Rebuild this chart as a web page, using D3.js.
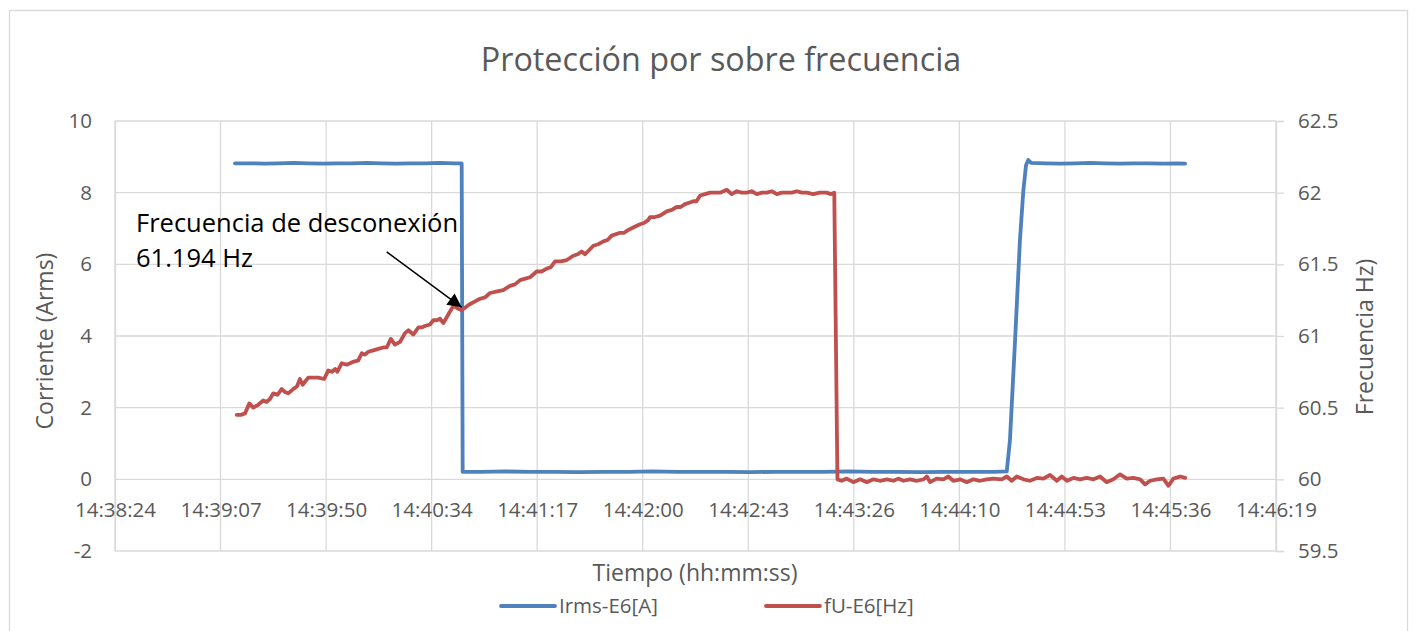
<!DOCTYPE html>
<html>
<head>
<meta charset="utf-8">
<script src="https://cdn.jsdelivr.net/npm/d3@7"></script>
<style>
  html, body { margin: 0; padding: 0; background: #fff; }
  svg { display: block; font-family: "Open Sans", "Noto Sans", sans-serif; }
</style>
</head>
<body>
<svg id="chart" width="1420" height="631"></svg>
<script>
// ---------------- DATA ----------------
const chartTitle = "Protección por sobre frecuencia";
const startClock = "14:38:24";           // time origin (seconds below are offsets from it)
const xTickLabels = ["14:38:24","14:39:07","14:39:50","14:40:34","14:41:17","14:42:00",
                     "14:42:43","14:43:26","14:44:10","14:44:53","14:45:36","14:46:19"];
const xTickStep = 43.2;                  // seconds between time ticks
const leftTicks = [-2, 0, 2, 4, 6, 8, 10];
const rightTicks = [59.5, 60, 60.5, 61, 61.5, 62, 62.5];
const seriesNames = ["Irms-E6[A]", "fU-E6[Hz]"];

// Irms-E6[A] : [seconds after 14:38:24, A]
const irms = [
  [49.1,8.82],[55,8.82],[61,8.81],[67,8.82],[73,8.83],[79,8.82],[85,8.81],[91,8.82],
  [97,8.82],[103,8.83],[109,8.82],[115,8.81],[121,8.82],[127,8.82],[133,8.83],[139,8.82],
  [141.9,8.82],[142.3,0.21],[150,0.21],[160,0.22],[170,0.21],[180,0.21],[190,0.20],
  [200,0.21],[210,0.21],[220,0.22],[230,0.21],[240,0.21],[250,0.21],[260,0.20],[270,0.21],
  [280,0.21],[290,0.21],[300,0.22],[310,0.21],[320,0.21],[330,0.20],[340,0.21],[350,0.21],
  [360,0.21],[365.0,0.22],[366.3,1.09],[368.4,3.88],[370.4,6.68],[371.8,8.07],[372.9,8.77],
  [373.8,8.91],[375.0,8.83],[381,8.82],[387,8.81],[393,8.82],[399,8.83],[405,8.82],
  [411,8.81],[417,8.82],[423,8.82],[429,8.81],[435,8.82],[438.0,8.81]
];

// fU-E6[Hz] : [seconds after 14:38:24, Hz]
const freq = [
  [49.8,60.45],[51.5,60.45],[53.2,60.46],[55.0,60.53],[56.6,60.50],[58.6,60.52],[60.7,60.55],
  [62.0,60.54],[63.4,60.56],[64.8,60.60],[66.5,60.59],[68.2,60.63],[69.5,60.61],[70.9,60.60],
  [73.0,60.63],[74.5,60.65],[75.7,60.70],[76.8,60.66],[79.1,60.71],[81.0,60.71],[83.2,60.71],
  [85.6,60.70],[87.3,60.76],[88.8,60.75],[90.1,60.77],[91.0,60.75],[92.8,60.81],[94.8,60.80],
  [96.2,60.81],[97.5,60.82],[99.6,60.83],[101.0,60.88],[102.3,60.87],[103.7,60.89],[105.7,60.90],
  [107.8,60.91],[109.8,60.92],[111.2,60.92],[112.9,60.98],[114.6,60.94],[116.7,60.96],
  [118.7,61.02],[120.1,61.04],[122.1,61.01],[124.2,61.06],[125.5,61.06],[126.9,61.07],
  [128.9,61.08],[130.3,61.11],[131.7,61.11],[133.0,61.12],[134.4,61.09],[136.4,61.15],
  [138.5,61.21],[140.5,61.19],[141.9,61.18],[143.5,61.20],[145.0,61.22],[147.2,61.24],
  [149.4,61.26],[151.5,61.27],[153.5,61.30],[156.0,61.31],[158.9,61.32],[161.7,61.35],
  [163.7,61.36],[165.8,61.39],[167.9,61.40],[169.9,61.41],[172.6,61.45],[174.6,61.45],
  [176.7,61.47],[178.4,61.48],[180.1,61.52],[182.5,61.52],[184.9,61.53],[187.6,61.56],
  [189.4,61.57],[191.0,61.59],[192.4,61.57],[195.8,61.63],[197.8,61.64],[199.9,61.66],
  [201.6,61.67],[203.3,61.70],[206.7,61.72],[208.4,61.72],[210.1,61.74],[212.5,61.76],
  [214.9,61.78],[216.7,61.79],[218.3,61.81],[219.0,61.83],[221.0,61.83],[223.1,61.84],
  [225.8,61.87],[227.9,61.88],[229.9,61.90],[231.5,61.90],[233.3,61.92],[235.0,61.93],
  [236.7,61.94],[238.0,61.94],[239.5,61.98],[241.5,61.99],[243.6,62.00],[245.6,62.00],
  [247.7,62.00],[250.4,62.02],[252.4,61.99],[254.5,62.01],[256.5,62.00],[258.6,62.00],
  [260.6,62.01],[262.7,61.99],[264.8,62.00],[266.8,62.00],[268.8,62.01],[270.9,61.99],
  [272.9,62.00],[275.0,62.00],[277.0,62.00],[279.1,62.01],[281.1,62.00],[283.1,62.00],
  [285.8,61.99],[288.5,62.00],[291.3,62.00],[293.0,61.99],[294.4,62.00],
  [295.7,60.00],[297.4,59.99],[299.5,60.005],[302.2,59.98],[305.0,60.00],[307.7,59.98],
  [310.4,60.00],[313.1,59.99],[315.9,60.00],[318.6,59.99],[320.6,60.005],[322.7,59.99],
  [325.4,60.00],[328.2,59.99],[330.9,60.00],[332.3,60.02],[333.6,59.98],[336.3,60.005],
  [339.1,60.00],[341.1,60.02],[343.1,59.99],[345.9,60.00],[348.6,59.98],[351.3,60.00],
  [354.1,59.99],[356.8,60.00],[359.5,60.005],[363.0,60.00],[365.0,60.02],[367.0,59.99],
  [369.1,60.02],[371.8,60.00],[374.5,59.99],[377.3,60.01],[380.0,60.005],[382.7,60.03],
  [385.5,59.99],[387.5,60.02],[389.6,59.99],[392.3,60.01],[395.0,60.00],[397.7,60.01],
  [400.5,60.00],[403.2,60.02],[405.9,59.98],[408.6,60.00],[411.4,60.035],[414.1,60.005],
  [416.8,60.01],[419.6,60.00],[421.6,59.965],[423.7,59.99],[426.4,60.00],[429.1,60.005],
  [431.2,59.955],[433.2,60.005],[436.0,60.02],[438.0,60.01]
];

const annotationLines = ["Frecuencia de desconexión", "61.194 Hz"];
const annotationPoint = [141.9, 61.2];   // arrow tip (time s, Hz)
const annotationFrom  = [111.2, 61.587]; // arrow tail (time s, Hz)

// ---------------- LAYOUT ----------------
const svg = d3.select("#chart");
const plot = { left: 115, right: 1276, top: 121, bottom: 551 };
const gridColor = "#d9d9d9";
const textColor = "#595959";
const colors = ["#4f81bd", "#c0504d"];

const x = d3.scaleLinear().domain([0, xTickStep * (xTickLabels.length - 1)]).range([plot.left, plot.right]);
const yL = d3.scaleLinear().domain([-2, 10]).range([plot.bottom, plot.top]);
const yR = d3.scaleLinear().domain([59.5, 62.5]).range([plot.bottom, plot.top]);
const xTickVals = xTickLabels.map((_, i) => i * xTickStep);

// chart border
svg.append("rect").attr("x", 9.5).attr("y", 10.5).attr("width", 1398).attr("height", 660)
  .attr("fill", "none").attr("stroke", gridColor).attr("stroke-width", 1.3);

// title
svg.append("text").attr("x", 721).attr("y", 71).attr("text-anchor", "middle")
  .attr("font-size", 32.3).attr("fill", textColor).text(chartTitle);

// gridlines
const grid = svg.append("g");
grid.selectAll("line.h").data(leftTicks).join("line")
  .attr("x1", plot.left).attr("x2", plot.right)
  .attr("y1", d => yL(d)).attr("y2", d => yL(d))
  .attr("stroke", gridColor).attr("stroke-width", 1.3);
grid.selectAll("line.v").data(xTickVals).join("line")
  .attr("x1", d => x(d)).attr("x2", d => x(d))
  .attr("y1", plot.top).attr("y2", plot.bottom)
  .attr("stroke", gridColor).attr("stroke-width", 1.3);

// axes
const fmt = d => String(d);
const gL = svg.append("g").attr("transform", `translate(${plot.left},0)`)
  .call(d3.axisLeft(yL).tickValues(leftTicks).tickSize(0).tickPadding(23).tickFormat(fmt));
const gR = svg.append("g").attr("transform", `translate(${plot.right},0)`)
  .call(d3.axisRight(yR).tickValues(rightTicks).tickSize(8).tickPadding(14).tickFormat(fmt));
const gX = svg.append("g").attr("transform", `translate(0,${yL(0)})`)
  .call(d3.axisBottom(x).tickValues(xTickVals).tickSize(0).tickPadding(23)
    .tickFormat((d, i) => xTickLabels[i]));
[gL, gR, gX].forEach(g => {
  g.select(".domain").attr("stroke", gridColor).attr("stroke-width", 1.3);
  g.selectAll(".tick line").attr("stroke", gridColor).attr("stroke-width", 1.3);
  g.selectAll(".tick text").attr("fill", textColor).attr("font-size", 20.5)
    .attr("font-family", '"Open Sans", sans-serif');
});
gX.select(".domain").remove();

// axis titles
svg.append("text").attr("x", 695).attr("y", 581).attr("text-anchor", "middle")
  .attr("font-size", 23).attr("fill", textColor).text("Tiempo (hh:mm:ss)");
svg.append("text").attr("transform", "translate(53,341) rotate(-90)").attr("text-anchor", "middle")
  .attr("font-size", 23).attr("fill", textColor).text("Corriente (Arms)");
svg.append("text").attr("transform", "translate(1373,337) rotate(-90)").attr("text-anchor", "middle")
  .attr("font-size", 23).attr("fill", textColor).text("Frecuencia Hz)");

// series
const lineL = d3.line().x(d => x(d[0])).y(d => yL(d[1]));
const lineR = d3.line().x(d => x(d[0])).y(d => yR(d[1]));
svg.append("path").datum(irms).attr("d", lineL).attr("fill", "none")
  .attr("stroke", colors[0]).attr("stroke-width", 3.8)
  .attr("stroke-linejoin", "round").attr("stroke-linecap", "round");
svg.append("path").datum(freq).attr("d", lineR).attr("fill", "none")
  .attr("stroke", colors[1]).attr("stroke-width", 3.8)
  .attr("stroke-linejoin", "round").attr("stroke-linecap", "round");

// annotation
svg.append("defs").append("marker").attr("id", "arrow")
  .attr("viewBox", "0 0 10 10").attr("refX", 10).attr("refY", 5)
  .attr("markerUnits", "userSpaceOnUse").attr("markerWidth", 16).attr("markerHeight", 14)
  .attr("orient", "auto")
  .append("path").attr("d", "M0,0 L10,5 L0,10 Z").attr("fill", "#000");
svg.append("line")
  .attr("x1", x(annotationFrom[0])).attr("y1", yR(annotationFrom[1]))
  .attr("x2", x(annotationPoint[0])).attr("y2", yR(annotationPoint[1]))
  .attr("stroke", "#000").attr("stroke-width", 1.5).attr("marker-end", "url(#arrow)");
const ann = svg.append("text").attr("font-size", 25.5).attr("fill", "#000");
annotationLines.forEach((t, i) => {
  ann.append("tspan").attr("x", 136).attr("y", 232 + i * 35).text(t);
});

// legend
const legend = svg.append("g");
const legendX = [501, 766];
seriesNames.forEach((name, i) => {
  legend.append("line").attr("x1", legendX[i]).attr("x2", legendX[i] + 54)
    .attr("y1", 606).attr("y2", 606).attr("stroke", colors[i])
    .attr("stroke-width", 3.8).attr("stroke-linecap", "round");
  legend.append("text").attr("x", legendX[i] + 58).attr("y", 606).attr("dy", "0.35em")
    .attr("font-size", 20.5).attr("fill", textColor).text(name);
});
</script>
</body>
</html>
